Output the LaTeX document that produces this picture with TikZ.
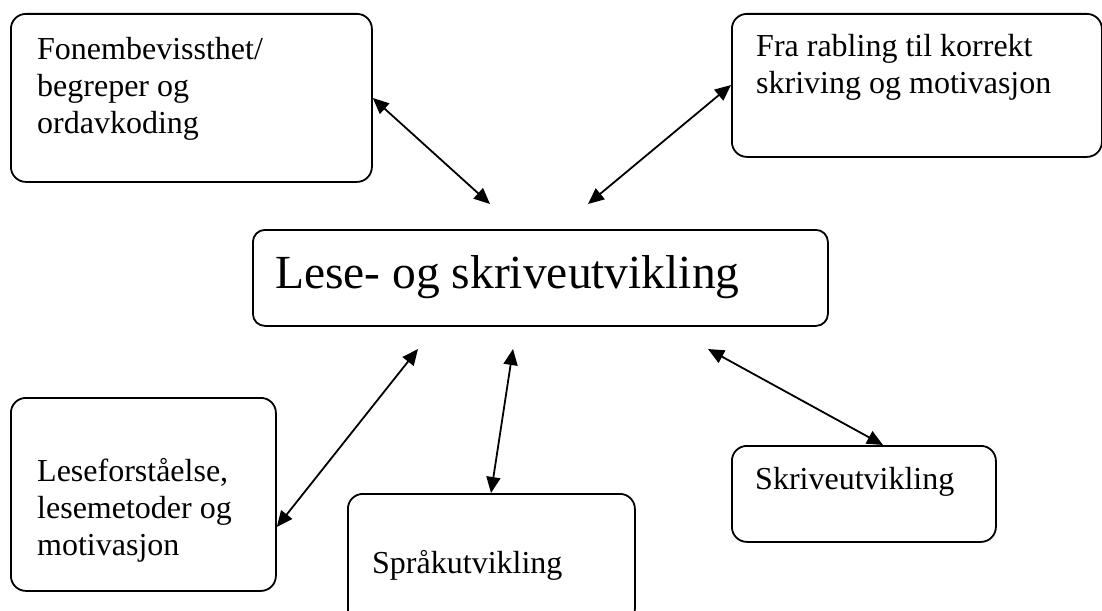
\documentclass[tikz,border=0pt]{standalone}
\usepackage{fontspec}
\setmainfont{Liberation Serif}
\usetikzlibrary{arrows.meta}
\begin{document}
\begin{tikzpicture}[x=1pt,y=-1pt,
  box/.style={draw, line width=1.8pt, rounded corners=15pt, inner sep=0pt, anchor=north west},
  txt/.style={inner sep=0pt, anchor=base west, align=left, font=\fontsize{32}{37}\selectfont},
  bigtxt/.style={inner sep=0pt, anchor=base west, font=\fontsize{47.5}{54}\selectfont},
  biarrow/.style={line width=1.8pt, {Triangle[length=16pt,width=14pt]}-{Triangle[length=16pt,width=14pt]}}]
\useasboundingbox (0,0) rectangle (1102,610);
% boxes
\node[box, minimum width=361pt, minimum height=168pt] (A) at (10,13) {};
\node[box, minimum width=370pt, minimum height=143pt] (B) at (731,13) {};
\node[box, rounded corners=12pt, minimum width=575pt, minimum height=96pt] (C) at (252,229) {};
\node[box, minimum width=265pt, minimum height=193pt] (D) at (10,397) {};
\node[box, minimum width=287pt, minimum height=130pt] (E) at (347,493) {};
\node[box, minimum width=264pt, minimum height=96pt] (F) at (731,445) {};
% texts (base anchor = baseline of the last line)
\node[txt] (tA) at (37,133) {Fonembevissthet/\\begreper og\\ordavkoding};
\node[txt] (tB) at (756,93) {Fra rabling til korrekt\\skriving og motivasjon};
\node[bigtxt] (tC) at (275,288) {Lese- og skriveutvikling};
\node[txt] (tD) at (37,555) {Leseforståelse,\\lesemetoder og\\motivasjon};
\node[txt] (tE) at (372,573) {Språkutvikling};
\node[txt] (tF) at (755,489) {Skriveutvikling};
% free ends
\coordinate (c1) at (490,204);
\coordinate (c2) at (588,204);
\coordinate (c3) at (418,349);
\coordinate (c4) at (513,349);
\coordinate (c5) at (708,349);
% arrows
\draw[biarrow] (A.east |- 0,98) -- (c1);
\draw[biarrow] (B.west |- 0,85) -- (c2);
\draw[biarrow] (D.east |- 0,527) -- (c3);
\draw[biarrow] (E.north west -| 491,0) -- (c4);
\draw[biarrow] (F.north west -| 883,0) -- (c5);
\end{tikzpicture}
\end{document}
